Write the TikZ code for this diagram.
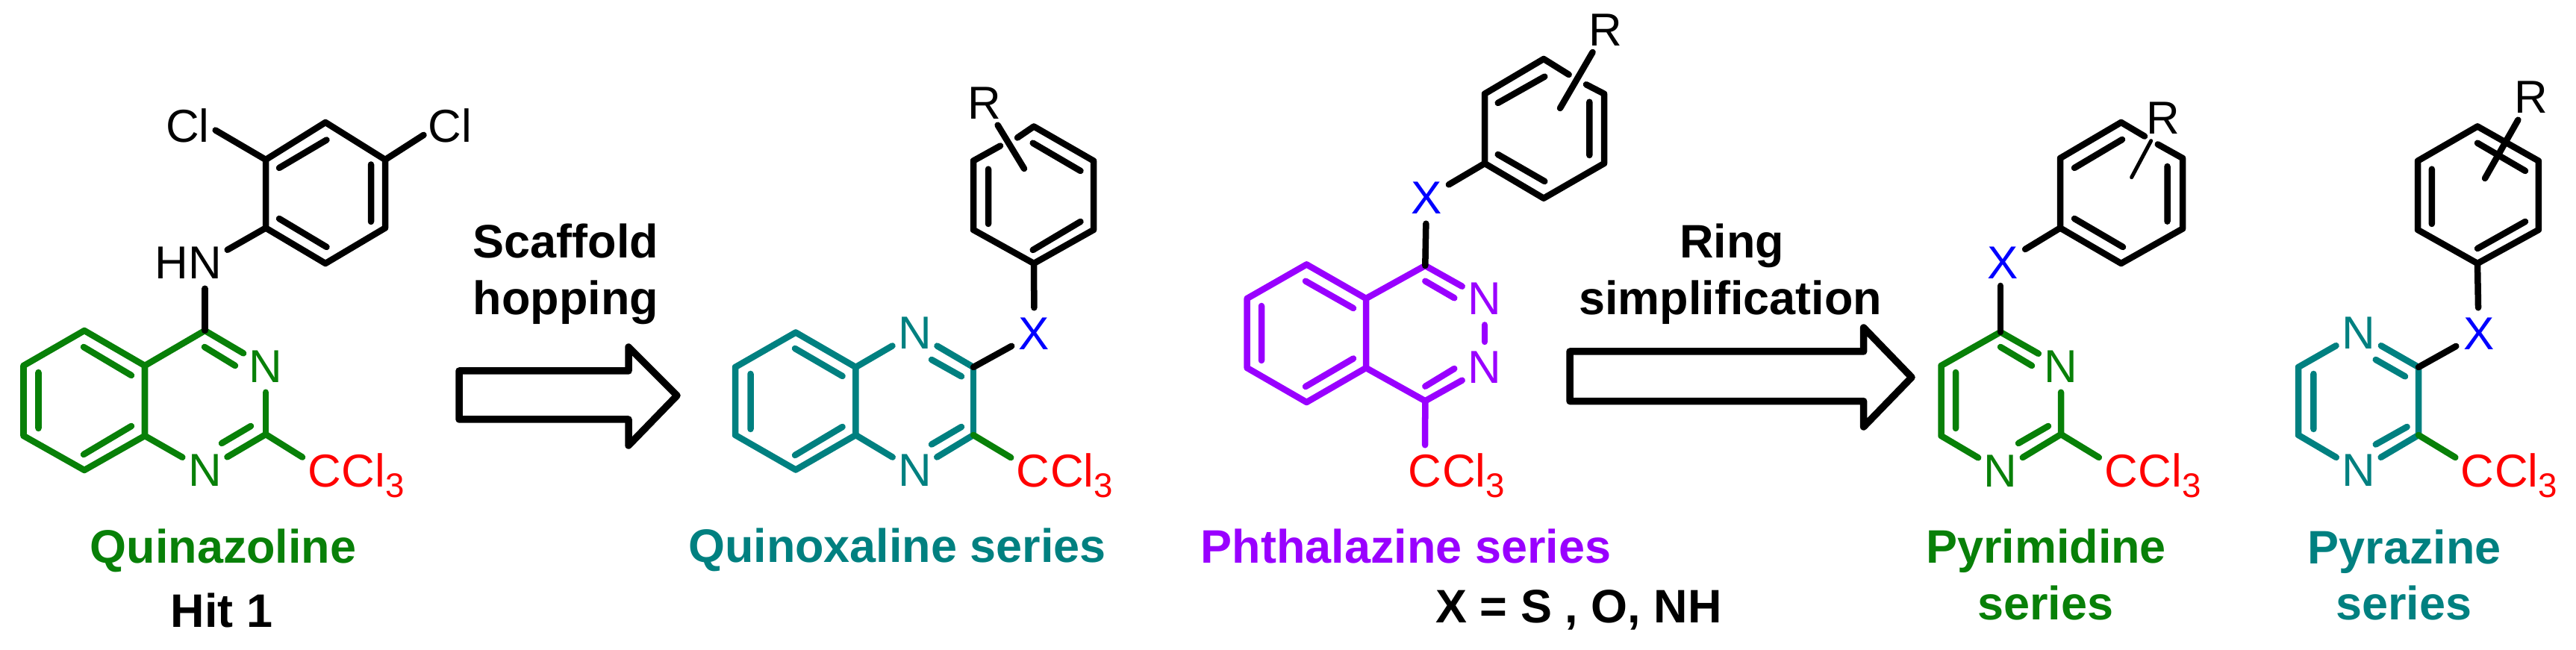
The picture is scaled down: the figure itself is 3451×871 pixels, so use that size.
\documentclass[tikz,border=0pt]{standalone}
\usepackage{fontspec}
\setmainfont{Liberation Sans}
\usepackage{xcolor}
\definecolor{hitgreen}{RGB}{8,128,8}
\definecolor{serteal}{RGB}{0,128,128}
\definecolor{serpurple}{RGB}{153,0,255}

% CCl3 after its first C
\def\ccltail{Cl\raisebox{-0.14cm}{\fontsize{13pt}{13pt}\selectfont 3}}

\tikzset{
  bond/.style={line width=0.085cm, line cap=round, line join=round},
  thinbond/.style={line width=0.05cm, line cap=round},
  blockarrow/.style={line width=0.095cm, line join=round, fill=white},
  atom/.style={circle, inner sep=0pt, minimum size=0.68cm, font=\fontsize{17.6pt}{20pt}\selectfont},
  cclrest/.style={anchor=base west, inner sep=0pt, xshift=0.224cm, red, font=\fontsize{17.6pt}{20pt}\selectfont},
  title/.style={anchor=base, inner sep=0pt, font=\fontsize{17.9pt}{20pt}\selectfont\bfseries},
}

\begin{document}
\begin{tikzpicture}[x=0.01cm, y=-0.01cm]
\useasboundingbox (0,0) rectangle (3451,871);

% Quinazoline hit
\coordinate (q1) at (113,443);
\coordinate (q2) at (31.5,490);
\coordinate (q3) at (31.5,584);
\coordinate (q4) at (113,630);
\coordinate (q5) at (194,584);
\coordinate (q6) at (194,490);
\coordinate (q7) at (274.5,443);
\coordinate (q8) at (356,582);
\node[atom, hitgreen] (qn3) at (356,491) {N};
\node[atom, hitgreen] (qn1) at (274.5,630) {N};
\node[atom, red] (qc) at (434.5,631) {C};
\node[cclrest] (qcl) at (qc.base) {\ccltail};
\draw[bond, hitgreen] (q7) -- (q6) -- (q1) -- (q2) -- (q3) -- (q4) -- (q5) -- (q6);
\draw[bond, hitgreen] (q7) -- (qn3);
\draw[bond, hitgreen] (qn3) -- (q8);
\draw[bond, hitgreen] (q8) -- (qn1);
\draw[bond, hitgreen] (q5) -- (qn1);
\draw[bond, hitgreen] (q8) -- (qc);
\draw[bond, hitgreen] (112,465) -- (176,503) (51.5,499) -- (51.5,574) (112,609) -- (176,571);
\draw[bond, hitgreen] (274,465) -- (315,490) (297,594) -- (336,571);

% Dichlorophenyl of the hit
\coordinate (a1) at (356,305.5);
\coordinate (a2) at (436,353);
\coordinate (a3) at (516,305.5);
\coordinate (a4) at (516,214);
\coordinate (a5) at (436,164);
\coordinate (a6) at (356,214);
\node[atom] (qnh) at (274.5,352) {N};
\node[atom] (qh) at (229.5,352) {H};
\node[atom] (cla) at (251.5,168) {Cl};
\node[atom] (clb) at (603,168) {Cl};
\draw[bond] (a1) -- (a2) -- (a3) -- (a4) -- (a5) -- (a6) -- cycle;
\draw[bond] (374,225) -- (437.5,187.5) (497,220.5) -- (497,297) (374,293) -- (437.5,331);
\draw[bond] (a1) -- (qnh);
\draw[bond] (q7) -- (qnh);
\draw[bond] (a6) -- (cla.-10);
\draw[bond] (a4) -- (clb.200);

% Scaffold hopping arrow
\draw[blockarrow] (615,497) -- (842,497) -- (842,465) -- (907,530) -- (842,597) -- (842,562) -- (615,562) -- cycle;
\node[title] (hopa) at (758,346) {Scaffold};
\node[title] (hopb) at (758,422) {hopping};

% Quinoxaline series
\coordinate (x1) at (1066,445.5);
\coordinate (x2) at (985,492);
\coordinate (x3) at (985,583);
\coordinate (x4) at (1066,629.5);
\coordinate (x5) at (1146.4,583);
\coordinate (x6) at (1146.4,492);
\coordinate (x7) at (1304,492);
\coordinate (x8) at (1304,583);
\node[atom, serteal] (xn4) at (1225.5,446) {N};
\node[atom, serteal] (xn1) at (1225.5,630.5) {N};
\node[atom, blue] (xx) at (1385.6,447) {X};
\node[atom, red] (xc) at (1384,631) {C};
\node[cclrest] (xcl) at (xc.base) {\ccltail};
\draw[bond, serteal] (x5) -- (x6) -- (x1) -- (x2) -- (x3) -- (x4) -- (x5);
\draw[bond, serteal] (x6) -- (xn4);
\draw[bond, serteal] (x5) -- (xn1);
\draw[bond, serteal] (xn4) -- (x7);
\draw[bond, serteal] (xn1) -- (x8);
\draw[bond, serteal] (x7) -- (x8);
\draw[bond, serteal] (1065,467) -- (1128.6,504) (1005.5,501) -- (1005.5,575) (1065,610) -- (1128.6,572);
\draw[bond, serteal] (1248,482) -- (1288,504.4) (1248,595.5) -- (1288,572);
\draw[bond] (x7) -- (xx);
\draw[bond, hitgreen] (x8) -- (xc);

% Aryl of the quinoxaline
\coordinate (b1) at (1385,353);
\coordinate (b2) at (1465,308);
\coordinate (b3) at (1465,215.5);
\coordinate (b4) at (1385,169.5);
\coordinate (b5) at (1304,215.5);
\coordinate (b6) at (1304,308);
\coordinate (b7) at (1340,195.5);
\coordinate (b8) at (1363,184.5);
\coordinate (b9) at (1372,226);
\node[atom] (xr) at (1318.6,138) {R};
\draw[bond] (b8) -- (b4) -- (b3) -- (b2) -- (b1) -- (b6) -- (b5) -- (b7);
\draw[bond] (1383.7,335) -- (1447.5,297) (1383.7,191.7) -- (1447.5,229) (1324,226.7) -- (1324,300);
\draw[bond] (xr) -- (b9);
\draw[bond] (b1) -- (xx);

\node[title, serteal] (xname) at (1202,754) {Quinoxaline series};

% Phthalazine series
\coordinate (p1) at (1750.4,354.4);
\coordinate (p2) at (1670.7,400);
\coordinate (p3) at (1670.7,493);
\coordinate (p4) at (1750.4,539);
\coordinate (p5) at (1830,493);
\coordinate (p6) at (1830,400);
\coordinate (p7) at (1909.3,356);
\coordinate (p8) at (1909.3,537.3);
\node[atom, serpurple] (pn3) at (1989,400.7) {N};
\node[atom, serpurple] (pn2) at (1989,492.7) {N};
\node[atom, blue] (px) at (1911,265) {X};
\node[atom, red] (pc) at (1909,631) {C};
\node[cclrest] (pcl) at (pc.base) {\ccltail};
\draw[bond, serpurple] (p5) -- (p6) -- (p1) -- (p2) -- (p3) -- (p4) -- (p5);
\draw[bond, serpurple] (p6) -- (p7) -- (pn3);
\draw[bond, serpurple] (p5) -- (p8) -- (pn2);
\draw[bond, serpurple] (pn3) -- (pn2);
\draw[bond, serpurple] (p8) -- (pc);
\draw[bond, serpurple] (1749,376.7) -- (1813,413) (1690,410) -- (1690,483) (1749,518) -- (1813,480.5);
\draw[bond, serpurple] (1909.3,376.7) -- (1948.3,399.3) (1909.3,517.7) -- (1948.3,494);
\draw[bond] (p7) -- (px);

% Aryl of the phthalazine
\coordinate (c1) at (1989,219);
\coordinate (c2) at (2068,265.7);
\coordinate (c3) at (2149,219);
\coordinate (c4) at (2149,125.7);
\coordinate (c5) at (2125,113.3);
\coordinate (c6) at (2101.7,100);
\coordinate (c7) at (2068,79);
\coordinate (c8) at (1989,125.7);
\coordinate (c9) at (2090,145);
\node[atom] (pr) at (2151,40) {R};
\draw[bond] (c5) -- (c4) -- (c3) -- (c2) -- (c1) -- (c8) -- (c7) -- (c6);
\draw[bond] (2006.7,138) -- (2069.3,102.7) (2129.3,136.7) -- (2129.3,208) (2006.7,207) -- (2069.3,243);
\draw[bond] (pr) -- (c9);
\draw[bond] (c1) -- (px);

\node[title, serpurple] (pname) at (1883.5,755) {Phthalazine series};
\node[title] (xdef) at (2115,835) {X = S , O, NH};

% Ring simplification arrow
\draw[blockarrow] (2103,471) -- (2496.6,471) -- (2496.6,439) -- (2561,505.6) -- (2496.6,572) -- (2496.6,537.6) -- (2103,537.6) -- cycle;
\node[title] (simpa) at (2320,346) {Ring};
\node[title] (simpb) at (2318,422) {simplification};

% Pyrimidine series
\coordinate (m1) at (2680,445);
\coordinate (m2) at (2600.5,490);
\coordinate (m3) at (2600.5,584);
\coordinate (m4) at (2761,582);
\coordinate (m5) at (2680,383);
\node[atom, hitgreen] (mn3) at (2761,491) {N};
\node[atom, hitgreen] (mn1) at (2680,631) {N};
\node[atom, blue] (mx) at (2683.4,352) {X};
\node[atom, red] (mc) at (2841.5,631) {C};
\node[cclrest] (mcl) at (mc.base) {\ccltail};
\draw[bond, hitgreen] (mn3) -- (m1) -- (m2) -- (m3) -- (mn1);
\draw[bond, hitgreen] (mn3) -- (m4) -- (mn1);
\draw[bond, hitgreen] (m4) -- (mc);
\draw[bond, hitgreen] (2680,465) -- (2722,490) (2620,499) -- (2620,574) (2704,594) -- (2744,571);
\draw[bond] (m1) -- (m5);

% Aryl of the pyrimidine
\coordinate (d1) at (2760,305.5);
\coordinate (d2) at (2841.6,353);
\coordinate (d3) at (2924,306.5);
\coordinate (d4) at (2924,212);
\coordinate (d5) at (2890.7,193.4);
\coordinate (d6) at (2873,182.6);
\coordinate (d7) at (2841.6,164);
\coordinate (d8) at (2760,212);
\coordinate (d9) at (2855.6,237.7);
\node[atom] (mr) at (2898,158) {R};
\draw[bond] (d5) -- (d4) -- (d3) -- (d2) -- (d1) -- (d8) -- (d7) -- (d6);
\draw[bond] (2779,225) -- (2843,187) (2903.5,223) -- (2903.5,296.7) (2779,293) -- (2844,331);
\draw[thinbond] (mr) -- (d9);
\draw[bond] (d1) -- (mx);

\node[title, hitgreen] (mnamea) at (2741,755) {Pyrimidine};
\node[title, hitgreen] (mnameb) at (2740,831) {series};

% Pyrazine series
\coordinate (z1) at (3079,492);
\coordinate (z2) at (3079,583);
\coordinate (z3) at (3240,492);
\coordinate (z4) at (3240,583);
\node[atom, serteal] (zn4) at (3159.7,446) {N};
\node[atom, serteal] (zn1) at (3159.7,630.5) {N};
\node[atom, blue] (zx) at (3320.6,447) {X};
\node[atom, red] (zc) at (3319,631) {C};
\node[cclrest] (zcl) at (zc.base) {\ccltail};
\draw[bond, serteal] (zn4) -- (z1) -- (z2) -- (zn1);
\draw[bond, serteal] (zn4) -- (z3) -- (z4) -- (zn1);
\draw[bond, serteal] (3099.4,501) -- (3099.4,575) (3182.7,482) -- (3222,504.4) (3182.7,595.5) -- (3224.6,572);
\draw[bond] (z3) -- (zx);
\draw[bond, hitgreen] (z4) -- (zc);

% Aryl of the pyrazine
\coordinate (e1) at (3319,353);
\coordinate (e2) at (3400.8,308);
\coordinate (e3) at (3400.8,215.6);
\coordinate (e4) at (3319,169.4);
\coordinate (e5) at (3239,215.6);
\coordinate (e6) at (3239,308);
\coordinate (e7) at (3329,239);
\node[atom] (zr) at (3390.5,130.5) {R};
\draw[bond] (e1) -- (e2) -- (e3) -- (e4) -- (e5) -- (e6) -- cycle;
\draw[bond] (3319,333) -- (3383,297) (3319,191.7) -- (3383,229) (3257.8,226.7) -- (3257.8,300);
\draw[bond] (zr) -- (e7);
\draw[bond] (e1) -- (zx);

\node[title, serteal] (znamea) at (3221,755.5) {Pyrazine};
\node[title, serteal] (znameb) at (3220,830.6) {series};

% Labels of the hit
\node[title, hitgreen] (qname) at (299,755) {Quinazoline};
\node[title] (qhit) at (297,841) {Hit 1};

\end{tikzpicture}
\end{document}
